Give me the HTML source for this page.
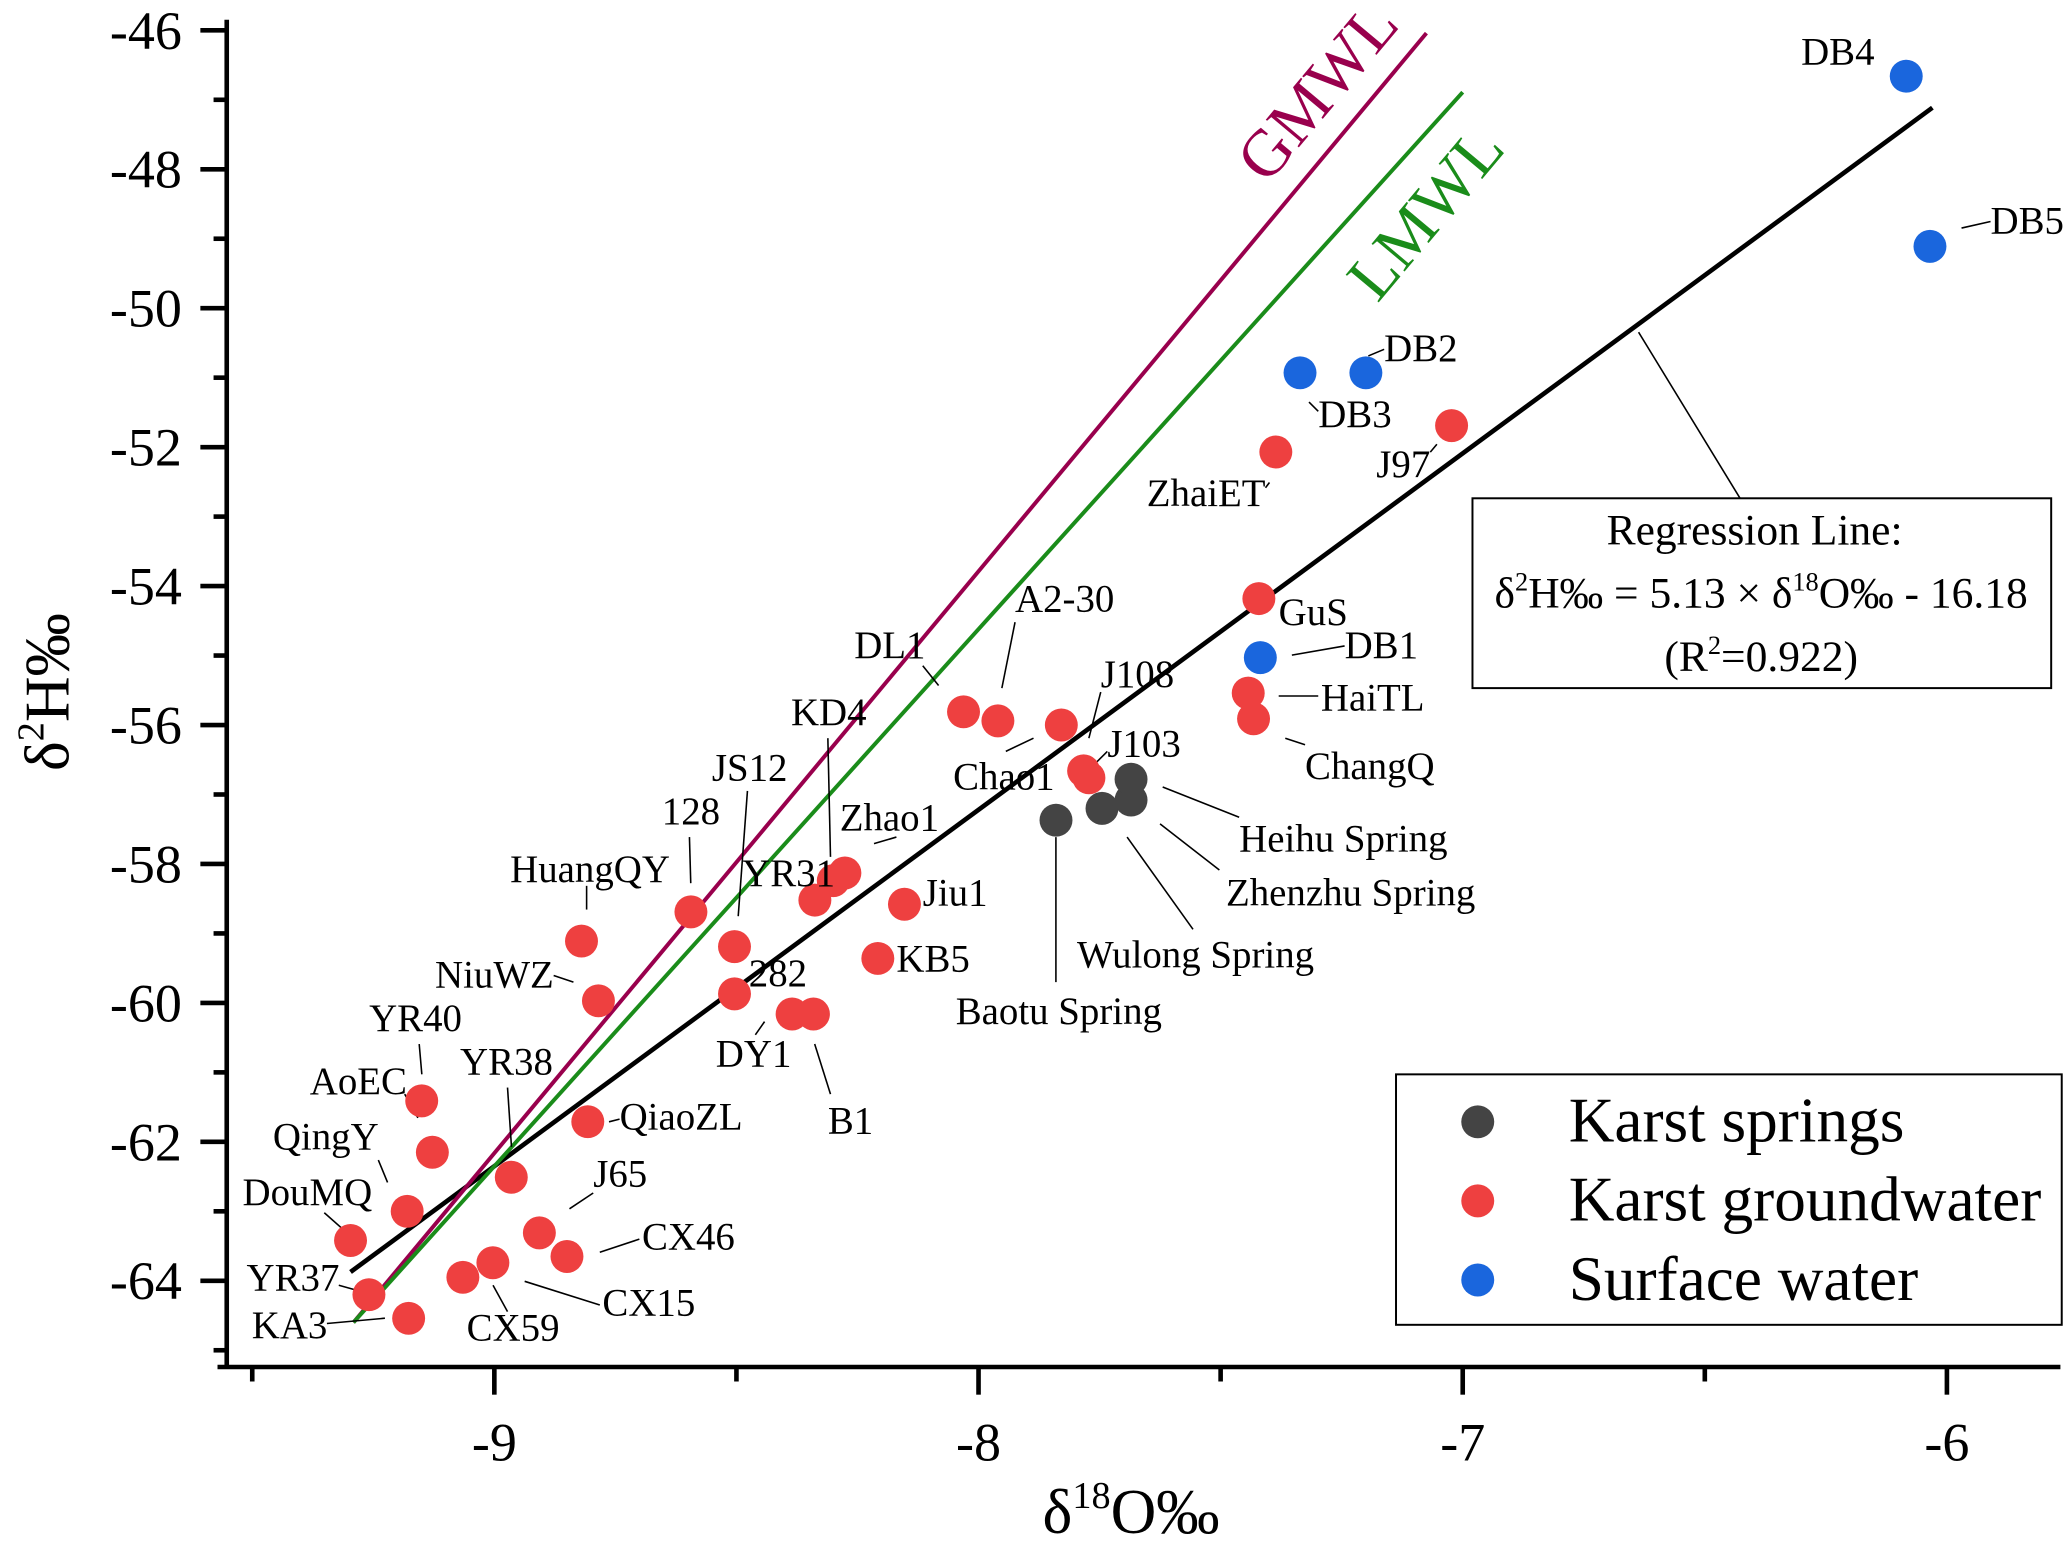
<!DOCTYPE html>
<html><head><meta charset="utf-8">
<style>
html,body{margin:0;padding:0;background:#fff;}
svg, svg text{font-family:"Liberation Serif","DejaVu Serif",serif;}
</style></head>
<body>
<svg id="chart" width="2067" height="1541" viewBox="0 0 1568 1169" preserveAspectRatio="none" xmlns="http://www.w3.org/2000/svg" font-family="Liberation Serif, serif">
<g id="axes"></g>
<g id="lines"></g>
<g id="leaders"></g>
<g id="points"></g>
<g id="labels"></g>
<text x="0" y="0" font-size="50" fill="#99004d" transform="translate(1012,80) rotate(-50)" text-anchor="middle">GMWL</text>
<text x="0" y="0" font-size="50" fill="#1a8c1a" transform="translate(1094,172) rotate(-50)" text-anchor="middle">LMWL</text>
<g>
<line x1="1243" y1="252" x2="1320" y2="378" stroke="#000" stroke-width="1.2"/>
<rect x="1117" y="378" width="439" height="144" fill="#fff" stroke="#000" stroke-width="1.5"/>
<text x="1331" y="413" font-size="33" text-anchor="middle">Regression Line:</text>
<text x="1336" y="461" font-size="33" text-anchor="middle">δ<tspan font-size="20" dy="-13">2</tspan><tspan dy="13">H‰ = 5.13 × δ</tspan><tspan font-size="20" dy="-13">18</tspan><tspan dy="13">O‰ - 16.18</tspan></text>
<text x="1336" y="509" font-size="33" text-anchor="middle">(R<tspan font-size="20" dy="-13">2</tspan><tspan dy="13">=0.922)</tspan></text>
</g>
<g>
<rect x="1059" y="815" width="505" height="190" fill="#fff" stroke="#000" stroke-width="1.5"/>
<circle cx="1121" cy="851" r="12.5" fill="#444"/>
<text x="1190" y="866" font-size="48">Karst springs</text>
<circle cx="1121" cy="911" r="12.5" fill="#ee4040"/>
<text x="1190" y="926" font-size="48">Karst groundwater</text>
<circle cx="1121" cy="971" r="12.5" fill="#1a66dd"/>
<text x="1190" y="986" font-size="48">Surface water</text>
</g>
<text x="858" y="1163" font-size="48" text-anchor="middle">δ<tspan font-size="29" dy="-19">18</tspan><tspan dy="19">O‰</tspan></text>
<text x="0" y="0" font-size="48" text-anchor="middle" transform="translate(52,525) rotate(-90)">δ<tspan font-size="29" dy="-19">2</tspan><tspan dy="19">H‰</tspan></text>
</svg>
<script>
const NS = "http://www.w3.org/2000/svg";
const xTicks = [-9, -8, -7, -6];
const yTicks = [-46, -48, -50, -52, -54, -56, -58, -60, -62, -64];
const springNames = ["Baotu Spring", "Wulong Spring", "Zhenzhu Spring", "Heihu Spring"];
const springX = [-7.840, -7.745, -7.685, -7.685];
const springY = [-57.37, -57.20, -57.08, -56.78];
const surfaceNames = ["DB4", "DB5", "DB2", "DB3", "DB1"];
const surfaceX = [-6.084, -6.035, -7.200, -7.336, -7.418];
const surfaceY = [-46.66, -49.11, -50.93, -50.93, -55.03];
const gwNames = ["J97","ZhaiET","GuS","HaiTL","ChangQ","A2-30","DL1","J108","J103","Chao1","Zhao1","KD4","YR31","Jiu1","KB5","128","JS12","282","DY1","B1","HuangQY","NiuWZ","YR40","AoEC","QiaoZL","YR38","QingY","DouMQ","J65","CX46","CX15","CX59","YR37","KA3"];
const gwX = [-7.023,-7.386,-7.421,-7.443,-7.432,-7.960,-8.031,-7.829,-7.783,-7.772,-8.276,-8.300,-8.338,-8.153,-8.208,-8.594,-8.504,-8.504,-8.385,-8.341,-8.820,-8.785,-9.150,-9.128,-8.807,-8.965,-9.180,-9.297,-8.907,-8.850,-9.003,-9.065,-9.259,-9.177];
const gwY = [-51.69,-52.07,-54.18,-55.54,-55.91,-55.94,-55.81,-56.00,-56.66,-56.76,-58.13,-58.24,-58.52,-58.58,-59.36,-58.69,-59.19,-59.87,-60.16,-60.16,-59.11,-59.97,-61.41,-62.15,-61.71,-62.51,-63.00,-63.42,-63.31,-63.65,-63.74,-63.95,-64.20,-64.54];
const gmwlX = [-9.291, -7.075];
const gmwlY = [-64.6, -46.04];
const lmwlX = [-9.291, -7.0];
const lmwlY = [-64.6, -46.89];
const regSlope = 5.13;
const regIntercept = -16.18;
const regX = [-9.297, -6.030];

function sx(v){ return 375 + (v + 9) * 367.3; }
function sy(v){ return 23 + (-46 - v) * 52.7; }
function mk(tag, attrs, parent){ const e = document.createElementNS(NS, tag); for (const k in attrs) e.setAttribute(k, attrs[k]); parent.appendChild(e); return e; }

const axes = document.getElementById('axes');
let e;
e = mk('line', {x1:172, y1:15, x2:172, y2:1038, stroke:'#000', 'stroke-width':3.5}, axes);


e = mk('line', {x1:165, y1:1037, x2:1563, y2:1037, stroke:'#000', 'stroke-width':3.5}, axes);


for (let v = -46; v >= -65; v -= 1) {
  const major = (v % 2 === 0);
  mk('line', {x1: major ? 152 : 162, y1: sy(v), x2:172, y2: sy(v), stroke:'#000', 'stroke-width':3.5}, axes);
}
yTicks.forEach(v => {
  const t = mk('text', {x:138, y:sy(v)+14, 'font-size':41, 'text-anchor':'end'}, axes);
  t.textContent = String(v);
  
  
});
for (let v = -9.5; v <= -5.7; v += 0.5) {
  const major = Math.abs(v - Math.round(v)) < 1e-6;
  mk('line', {x1:sx(v), y1:1037, x2:sx(v), y2: major ? 1058 : 1048, stroke:'#000', 'stroke-width':3.5}, axes);
}
xTicks.forEach(v => {
  const t = mk('text', {x:sx(v), y:1108, 'font-size':41, 'text-anchor':'middle'}, axes);
  t.textContent = String(v);
  
  
});

const lines = document.getElementById('lines');
e = mk('line', {x1:sx(regX[0]), y1:sy(regSlope*regX[0]+regIntercept), x2:sx(regX[1]), y2:sy(regSlope*regX[1]+regIntercept), stroke:'#000', 'stroke-width':3.5}, lines);


e = mk('line', {x1:sx(gmwlX[0]), y1:sy(gmwlY[0]), x2:sx(gmwlX[1]), y2:sy(gmwlY[1]), stroke:'#99004d', 'stroke-width':3}, lines);


e = mk('line', {x1:sx(lmwlX[0]), y1:sy(lmwlY[0]), x2:sx(lmwlX[1]), y2:sy(lmwlY[1]), stroke:'#1a8c1a', 'stroke-width':3}, lines);



const pts = document.getElementById('points');
function drawSeries(xs, ys, color, name){
  xs.forEach((x, i) => {
    const c = mk('circle', {cx:sx(x), cy:sy(ys[i]), r:12.5, fill:color}, pts);
    
    
  });
}
drawSeries(gwX, gwY, '#ee4040', 'groundwater-point');
drawSeries(springX, springY, '#444444', 'spring-point');
drawSeries(surfaceX, surfaceY, '#1a66dd', 'surface-point');

// annotation layout (label text position [x, baseline y, anchor] and leader line) in screen units
const labelLayout = {
  "DB4":[1422,49,'end',null],"DB5":[1510,177,'start',[1488,173,1510,168]],
  "DB2":[1050,274,'start',[1038,270,1050,265]],"DB3":[1000,324,'start',[993,305,1000,312]],
  "J97":[1085,362,'end',[1085,343,1090,337]],"ZhaiET":[960,384,'end',[960,370,963,366]],
  "GuS":[970,474,'start',null],"DB1":[1020,499,'start',[980,497,1020,490]],
  "HaiTL":[1002,539,'start',[970,528,1000,528]],"ChangQ":[990,591,'start',[975,560,990,565]],
  "A2-30":[770,464,'start',[760,522,770,472]],"DL1":[648,499,'start',[700,505,712,520]],
  "J108":[835,521,'start',[826,560,835,525]],"J103":[840,574,'start',[830,580,840,570]],
  "Chao1":[723,599,'start',[763,570,784,560]],"Heihu Spring":[940,646,'start',[882,597,940,620]],
  "Zhenzhu Spring":[930,687,'start',[880,625,925,660]],"Wulong Spring":[817,734,'start',[855,635,905,705]],
  "Baotu Spring":[725,777,'start',[801,635,801,745]],"KD4":[600,550,'start',[628,560,630,650]],
  "Zhao1":[637,630,'start',[663,640,680,635]],"YR31":[563,672,'start',null],
  "Jiu1":[700,687,'start',null],"KB5":[680,737,'start',null],
  "JS12":[540,592,'start',[567,600,560,695]],"128":[502,625,'start',[523,635,524,670]],
  "HuangQY":[387,669,'start',[445,672,445,690]],"NiuWZ":[330,749,'start',[420,740,435,745]],
  "282":[568,748,'start',null],"DY1":[543,809,'start',[573,785,580,775]],
  "B1":[628,860,'start',[618,792,630,830]],"YR40":[280,782,'start',[318,792,320,815]],
  "AoEC":[235,830,'start',[307,830,317,848]],"YR38":[349,815,'start',[385,825,388,870]],
  "QiaoZL":[470,857,'start',[462,851,470,849]],"QingY":[207,872,'start',[287,880,294,897]],
  "DouMQ":[184,914,'start',[246,920,263,935]],"J65":[450,900,'start',[432,917,450,905]],
  "CX46":[487,948,'start',[455,950,485,940]],"CX15":[457,998,'start',[398,972,455,990]],
  "CX59":[354,1017,'start',[374,975,385,995]],"YR37":[187,979,'start',[257,975,275,980]],
  "KA3":[191,1015,'start',[248,1004,292,1000]]
};
const labG = document.getElementById('labels');
const leadG = document.getElementById('leaders');
Object.keys(labelLayout).forEach(n => {
  const L = labelLayout[n];
  const t = mk('text', {x:L[0], y:L[1], 'font-size':29.5, 'text-anchor':L[2]}, labG);
  t.textContent = n;
  
  
  if (L[3]) {
    const l = mk('line', {x1:L[3][0], y1:L[3][1], x2:L[3][2], y2:L[3][3], stroke:'#000', 'stroke-width':1.2}, leadG);
    
    
  }
});
</script>
</body></html>
